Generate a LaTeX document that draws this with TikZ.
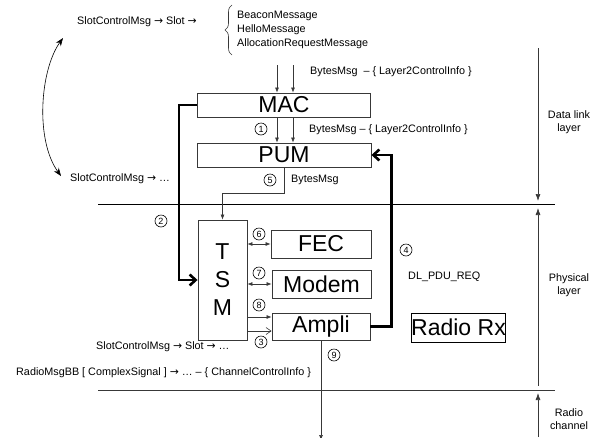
\documentclass[tikz,border=0pt]{standalone}
\usepackage{fontspec}
\setmainfont{Liberation Sans}
\newfontfamily\arrfont{DejaVu Sans}
\newcommand{\toarr}{{\arrfont\fontsize{10.8}{10}\selectfont →}}
\usetikzlibrary{arrows.meta, decorations.pathreplacing}
\colorlet{linecol}{black!78}
\tikzset{
  blk/.style   = {draw=linecol, line width=0.9pt, inner sep=0pt,
                  font=\fontsize{23}{24}\selectfont},
  txt/.style   = {inner sep=0pt, anchor=west, font=\fontsize{10.8}{14}\selectfont},
  layertxt/.style = {inner sep=0pt, align=center, font=\fontsize{10.8}{13}\selectfont},
  num/.style   = {circle, draw=black, line width=0.6pt, minimum size=12pt,
                  inner sep=0pt, font=\fontsize{9}{9}\selectfont},
  link/.style  = {-{Latex[length=5pt,width=4pt]}, draw=linecol, line width=0.6pt},
  dlink/.style = {{Latex[length=5pt,width=4pt]}-{Latex[length=5pt,width=4pt]},
                  draw=linecol, line width=0.6pt},
  olink/.style = {-{Straight Barb[length=5pt,width=7pt]}, draw=linecol, line width=0.6pt},
  bold/.style  = {-{Straight Barb[length=6pt,width=11pt]}, line width=2.6pt},
  lyr/.style   = {-{Latex[length=7pt,width=5pt]}, draw=linecol, line width=0.7pt},
}
\begin{document}
\begin{tikzpicture}[x=1pt, y=-1pt]
  \useasboundingbox (0,0) rectangle (599,437);
  % blocks
  \node[blk, minimum width=173pt, minimum height=24pt] (MAC) at (284,105) {MAC};
  \node[blk, minimum width=174pt, minimum height=24pt] (PUM) at (284,155) {PUM};
  \node[blk, minimum width=49pt, minimum height=120pt, align=center,
        font=\fontsize{23}{28}\selectfont] (TSM) at (222.5,280) {T\\S\\M};
  \node[blk, minimum width=100pt, minimum height=28pt] (FEC) at (321,244) {FEC};
  \node[blk, minimum width=99pt, minimum height=28pt] (Modem) at (321.5,284) {Modem};
  \node[blk, minimum width=98pt, minimum height=27pt] (Ampli) at (321,326.5) {Ampli};
  \node[blk, draw=black, minimum width=93pt, minimum height=29pt] (Rx) at (458.5,327.5) {Radio Rx};

  % texts
  \node[txt] (scm1) at (77,22) {SlotControlMsg \toarr{} Slot \toarr};
  \node[txt, align=left] (msgs) at (237,30) {BeaconMessage\\HelloMessage\\AllocationRequestMessage};
  \draw[linecol, line width=0.6pt, decorate, decoration={brace, amplitude=7pt}]
    (232,55) -- (232,5);
  \node[txt] (bm1) at (310,72) {BytesMsg\ \ – \{ Layer2ControlInfo \}};
  \node[txt] (bm2) at (309,130) {BytesMsg – \{ Layer2ControlInfo \}};
  \node[txt] (bm3) at (291,180) {BytesMsg};
  \node[txt] (scm2) at (70,179) {SlotControlMsg \toarr{} …};
  \node[txt] (pdu) at (408,277) {DL\_PDU\_REQ};
  \node[txt] (scm3) at (96,347) {SlotControlMsg \toarr{} Slot \toarr{} …};
  \node[txt] (rmb) at (16,373) {RadioMsgBB [ ComplexSignal ] \toarr{} … – \{ ChannelControlInfo \}};

  % numbers
  \foreach \n/\x/\y in {1/261/129, 2/161/221, 3/261/342, 4/406/250, 5/270/180,
                        6/259/234, 7/259/273, 8/259/305, 9/334/355}
    \node[num] (n\n) at (\x,\y) {\n};

  % layers
  \draw[line width=0.7pt] (98,204) -- (555,204);
  \draw[linecol, line width=0.7pt] (98,390) -- (555,390);
  \coordinate (dl1) at (538,48);  \coordinate (dl2) at (538,201);
  \coordinate (ph1) at (538,208); \coordinate (ph2) at (538,386);
  \coordinate (rc1) at (538,437); \coordinate (rc2) at (538,393);
  \draw[lyr] (dl1) -- (dl2);
  \draw[lyr, {Latex[length=7pt,width=5pt]}-] (ph1) -- (ph2);
  \draw[lyr] (rc1) -- (rc2);
  \node[layertxt] (dll) at (569,122) {Data link\\layer};
  \node[layertxt] (phl) at (569,285) {Physical\\layer};
  \node[layertxt] (rcl) at (569,419) {Radio\\channel};

  % connectors
  \coordinate (in1) at (277,65); \coordinate (in2) at (293,65);
  \draw[link] (in1) -- (in1 |- MAC.north);
  \draw[link] (in2) -- (in2 |- MAC.north);
  \draw[link] (in1 |- MAC.south) -- (in1 |- PUM.north);
  \draw[link] (in2 |- MAC.south) -- (in2 |- PUM.north);
  \draw[link] (PUM.south) -- ++(0,26) -| (TSM.north);
  \draw[bold] (MAC.west) -- ++(-18,0) |- (TSM.west);
  \draw[bold] (Ampli.east) -- ++(21,0) |- (PUM.east);
  \draw[dlink] (TSM.east |- FEC.west) -- (FEC.west);
  \draw[dlink] (TSM.east |- Modem.west) -- (Modem.west);
  \coordinate (a8) at ([yshift=9.5pt]Ampli.west);
  \coordinate (a3) at ([yshift=-4.5pt]Ampli.west);
  \draw[link] (TSM.east |- a8) -- (a8);
  \draw[olink] (TSM.east |- a3) -- (a3);
  \coordinate (ant) at (321,440);
  \draw[link] (Ampli.south) -- (ant);
  \coordinate (c1) at (63,38); \coordinate (c2) at (61,176);
  \draw[{Stealth[length=8pt,width=6pt]}-{Stealth[length=8pt,width=6pt]}, line width=0.6pt]
    (c1) .. controls (40,70) and (35,140) .. (c2);
\end{tikzpicture}
\end{document}
